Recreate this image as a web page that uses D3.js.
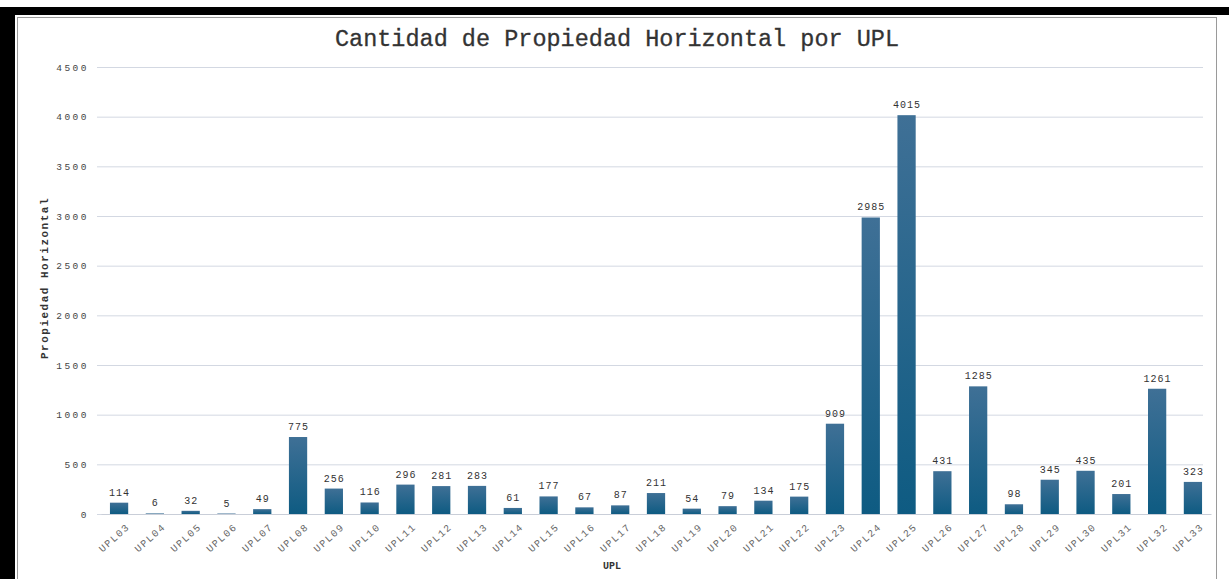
<!DOCTYPE html>
<html>
<head>
<meta charset="utf-8">
<script src="https://cdn.jsdelivr.net/npm/d3@7"></script>
<style>
  html, body { margin: 0; padding: 0; background: #ffffff; }
  svg { display: block; }
</style>
</head>
<body>
<svg id="chart" width="1229" height="579"></svg>
<script>
// Unidades de Planeamiento Local (UPL) y cantidad de propiedad horizontal
const categories = ["UPL03","UPL04","UPL05","UPL06","UPL07","UPL08","UPL09","UPL10","UPL11","UPL12",
  "UPL13","UPL14","UPL15","UPL16","UPL17","UPL18","UPL19","UPL20","UPL21","UPL22",
  "UPL23","UPL24","UPL25","UPL26","UPL27","UPL28","UPL29","UPL30","UPL31","UPL32","UPL33"];
const values = [114, 6, 32, 5, 49, 775, 256, 116, 296, 281,
  283, 61, 177, 67, 87, 211, 54, 79, 134, 175,
  909, 2985, 4015, 431, 1285, 98, 345, 435, 201, 1261, 323];
const yTicks = [0, 500, 1000, 1500, 2000, 2500, 3000, 3500, 4000, 4500];
const titleText = "Cantidad de Propiedad Horizontal por UPL";
const xTitle = "UPL";
const yTitle = "Propiedad Horizontal";

const svg = d3.select("#chart");
const W = 1229, H = 579;
const mono = "'Liberation Mono', 'DejaVu Sans Mono', monospace";

// Marco exterior
svg.append("rect").attr("x", 0).attr("y", 7).attr("width", W).attr("height", H - 7).attr("fill", "#000");
svg.append("rect").attr("x", 15).attr("y", 15).attr("width", 1203).attr("height", H - 15).attr("fill", "#fff");
svg.append("rect").attr("x", 17.5).attr("y", 17.5).attr("width", 1199).attr("height", H).attr("fill", "#fff")
  .attr("stroke", "#9a9a9a").attr("stroke-width", 1);
svg.append("rect").attr("x", 1218).attr("y", 15).attr("width", 11).attr("height", H - 15).attr("fill", "#fff");

const plot = { left: 101, right: 1211, top: 67, bottom: 514 };

const x = d3.scaleBand().domain(categories).range([plot.left, plot.right]).paddingInner(0.49).paddingOuter(0.25);
const y = d3.scaleLinear().domain([0, 4500]).range([plot.bottom, plot.top]);

// Degradado de las barras
const defs = svg.append("defs");
const grad = defs.append("linearGradient").attr("id", "barGrad").attr("x1", 0).attr("y1", 0).attr("x2", 0).attr("y2", 1);
grad.append("stop").attr("offset", "0%").attr("stop-color", "#3f7096");
grad.append("stop").attr("offset", "100%").attr("stop-color", "#0e5b82");

// Título
svg.append("text").attr("x", 617).attr("y", 46).attr("text-anchor", "middle")
  .attr("font-family", mono).attr("font-size", 23.5).attr("fill", "#333")
  .attr("stroke", "#333").attr("stroke-width", 0.3)
  .text(titleText);

// Líneas de cuadrícula y eje Y
const yAxis = d3.axisLeft(y).tickValues(yTicks).tickFormat(d3.format("d"))
  .tickSize(-(plot.right - plot.left - 4)).tickPadding(8);
const gy = svg.append("g").attr("transform", `translate(${plot.left - 4},0)`).call(yAxis);
gy.select(".domain").remove();
gy.selectAll(".tick line").attr("stroke", "#d3d8e2").attr("stroke-width", 1);
gy.selectAll(".tick text").attr("font-family", mono).attr("font-size", 9.5).attr("fill", "#444")
  .attr("letter-spacing", 2.5);

// Barras
svg.append("g").selectAll("rect").data(values).join("rect")
  .attr("x", (d, i) => x(categories[i]))
  .attr("y", d => y(d))
  .attr("width", x.bandwidth())
  .attr("height", d => y(0) - y(d))
  .attr("fill", "url(#barGrad)");

// Etiquetas de valor
svg.append("g").selectAll("text").data(values).join("text")
  .attr("x", (d, i) => x(categories[i]) + x.bandwidth() / 2 + 0.5)
  .attr("y", d => y(d) - 7)
  .attr("text-anchor", "middle")
  .attr("font-family", mono).attr("font-size", 10).attr("fill", "#333")
  .attr("letter-spacing", 1)
  .text(d => d);

// Eje X
const xAxis = d3.axisBottom(x).tickSize(0).tickPadding(6);
const gx = svg.append("g").attr("transform", `translate(0,${plot.bottom})`).call(xAxis);
gx.select(".domain").attr("stroke", "#c9ced8");
gx.selectAll(".tick text")
  .attr("font-family", mono).attr("font-size", 10).attr("fill", "#666")
  .attr("letter-spacing", 1.5)
  .attr("x", 0).attr("y", 0).attr("dy", "0.35em")
  .attr("text-anchor", "end")
  .attr("transform", "translate(9,11) rotate(-42)");

// Títulos de ejes
svg.append("text").attr("x", 612).attr("y", 569).attr("text-anchor", "middle")
  .attr("font-family", mono).attr("font-weight", "bold").attr("font-size", 10).attr("fill", "#333")
  .text(xTitle);
svg.append("text").attr("transform", "translate(48,278) rotate(-90)")
  .attr("text-anchor", "middle")
  .attr("font-family", mono).attr("font-weight", "bold").attr("font-size", 11).attr("fill", "#333")
  .attr("letter-spacing", 1.5)
  .text(yTitle);
</script>
</body>
</html>
